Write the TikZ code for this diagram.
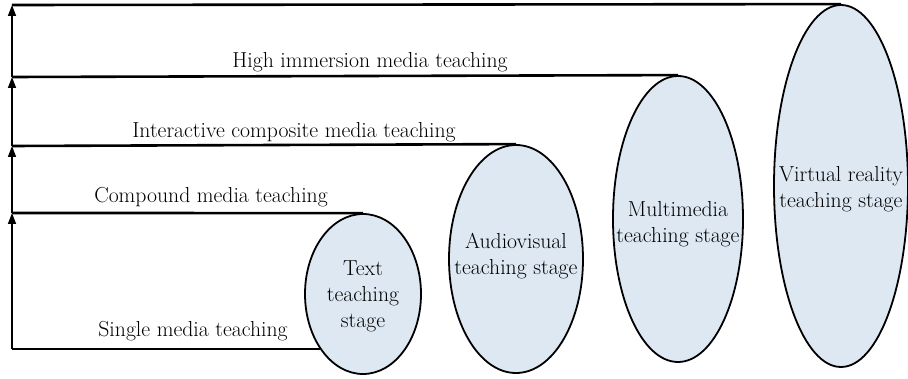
\documentclass[tikz,border=0pt]{standalone}
\usepackage{fontspec}
\usetikzlibrary{arrows.meta,shapes.geometric}
\definecolor{stagefill}{RGB}{221,232,243}
\begin{document}
\begin{tikzpicture}[
  x=1pt, y=-1pt,
  every node/.style={font=\fontsize{21.7}{26}\selectfont},
  arr/.style={line width=1.6pt, -{Triangle[length=11pt,width=8pt]}},
  hline/.style={line width=2.6pt},
  stage/.style={ellipse, draw, line width=1.8pt, fill=stagefill, inner sep=0pt},
  lbl/.style={anchor=base}
]
\useasboundingbox (0,0) rectangle (908,379);

\coordinate (s0) at (12,349);
\coordinate (s1) at (12,213);
\coordinate (s2) at (12,146);
\coordinate (s3) at (12,77);
\coordinate (s4) at (12,5);

\node [stage, minimum width=116pt, minimum height=160pt] (text) at (363,294) {};
\node [stage, minimum width=134pt, minimum height=228pt] (audio) at (516,259) {};
\node [stage, minimum width=130pt, minimum height=286pt] (multi) at (678,219) {};
\node [stage, minimum width=134pt, minimum height=362pt] (vr) at (841,186) {};

\node [align=center] (textlbl) at ([yshift=-2pt]text) {Text\\teaching\\stage};
\node [align=center] (audiolbl) at ([yshift=3pt]audio) {Audiovisual\\teaching stage};
\node [align=center] (multilbl) at ([yshift=-5pt]multi) {Multimedia\\teaching stage};
\node [align=center] (vrlbl) at ([yshift=-3pt]vr) {Virtual reality\\teaching stage};

\draw [arr] (s0) -- (s1);
\draw [arr] (s1) -- (s2);
\draw [arr] (s2) -- (s3);
\draw [arr] (s3) -- (s4);

\draw [hline] (s0) -- (s0 -| text.232);
\draw [hline] (s1) -- (text.north);
\draw [hline] (s2) -- (audio.north);
\draw [hline] (s3) -- (multi.north);
\draw [hline] (s4) -- (vr.north);

\node [lbl] (single) at (193,337) {Single media teaching};
\node [lbl] (compound) at (211,203) {Compound media teaching};
\node [lbl] (interact) at (294,138) {Interactive composite media teaching};
\node [lbl] (immersion) at (370,68) {High immersion media teaching};
\end{tikzpicture}
\end{document}
